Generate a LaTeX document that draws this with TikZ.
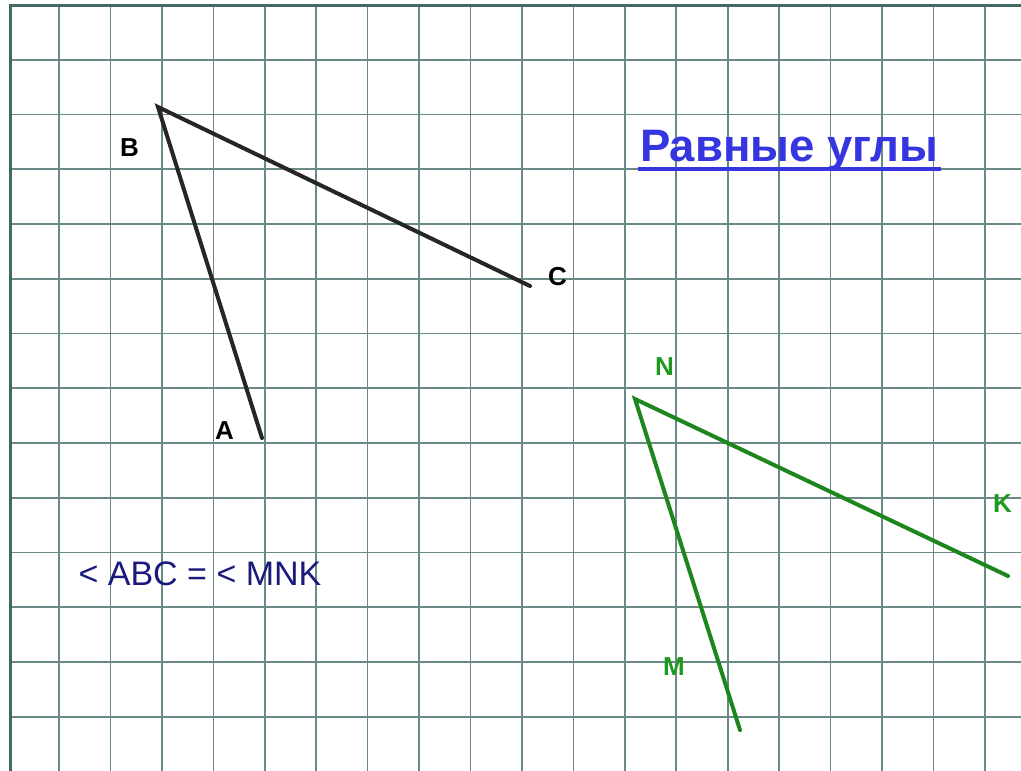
\documentclass[tikz,border=0pt]{standalone}
\usepackage{fontspec}
\setmainfont{Liberation Sans}
\definecolor{gridc}{HTML}{6A8A88}
\definecolor{borderc}{HTML}{3F6A66}
\definecolor{segblack}{HTML}{262626}
\definecolor{seggreen}{HTML}{1E861E}
\definecolor{labgreen}{HTML}{1F991F}
\definecolor{titleblue}{HTML}{3636E0}
\definecolor{navy}{HTML}{1A1A7E}
\tikzset{
  gridline/.style={gridc, line width=1.6pt},
  borderline/.style={borderc, line width=3pt},
  blackseg/.style={segblack, line width=4pt, line cap=round},
  greenseg/.style={seggreen, line width=4pt, line cap=round},
  blacklab/.style={anchor=base, inner sep=0pt, font=\fontsize{26}{26}\selectfont\bfseries, text=black},
  greenlab/.style={anchor=base, inner sep=0pt, font=\fontsize{26}{26}\selectfont\bfseries, text=labgreen},
}
\begin{document}
\begin{tikzpicture}[x=1pt,y=-1pt]
\useasboundingbox (0,0) rectangle (1021,771);
\fill[white] (0,0) rectangle (1021,771);
% grid
\foreach \k in {1,...,19}{
  \pgfmathsetmacro{\xx}{7.56+51.44*\k}
  \draw[gridline] (\xx,5) -- (\xx,771);
}
\foreach \k in {1,...,13}{
  \pgfmathsetmacro{\yy}{5+54.75*\k}
  \draw[gridline] (10,\yy) -- (1021,\yy);
}
\draw[borderline] (1021,5) -- (10,5) -- (10,771);
% angle ABC
\coordinate (B) at (158,107);
\coordinate (C) at (530,286);
\coordinate (A) at (262,438);
\draw[blackseg] (A) -- (B) -- (C);
\node[blacklab] (lB) at (129.5,156) {B};
\node[blacklab] (lC) at (557.5,285) {C};
\node[blacklab] (lA) at (224.5,439) {A};
% angle MNK
\coordinate (N) at (635,399);
\coordinate (K) at (1008,576);
\coordinate (M) at (740,730);
\draw[greenseg] (M) -- (N) -- (K);
\node[greenlab] (lN) at (664.5,375) {N};
\node[greenlab] (lK) at (1002.5,512) {K};
\node[greenlab] (lM) at (674,675) {M};
% title
\node[anchor=base west, inner sep=0pt, text=titleblue, font=\fontsize{45.5}{46}\selectfont\bfseries] (title) at (640,161) {Равные углы};
\draw[titleblue, line width=4.5pt] ([xshift=-2pt,yshift=-8pt]title.base west) -- ([xshift=2pt,yshift=-8pt]title.base east);
% equation
\node[anchor=base, inner sep=0pt, text=navy, font=\fontsize{34}{34}\selectfont] (eq) at (200,585) {< ABC = < MNK};
\end{tikzpicture}
\end{document}
